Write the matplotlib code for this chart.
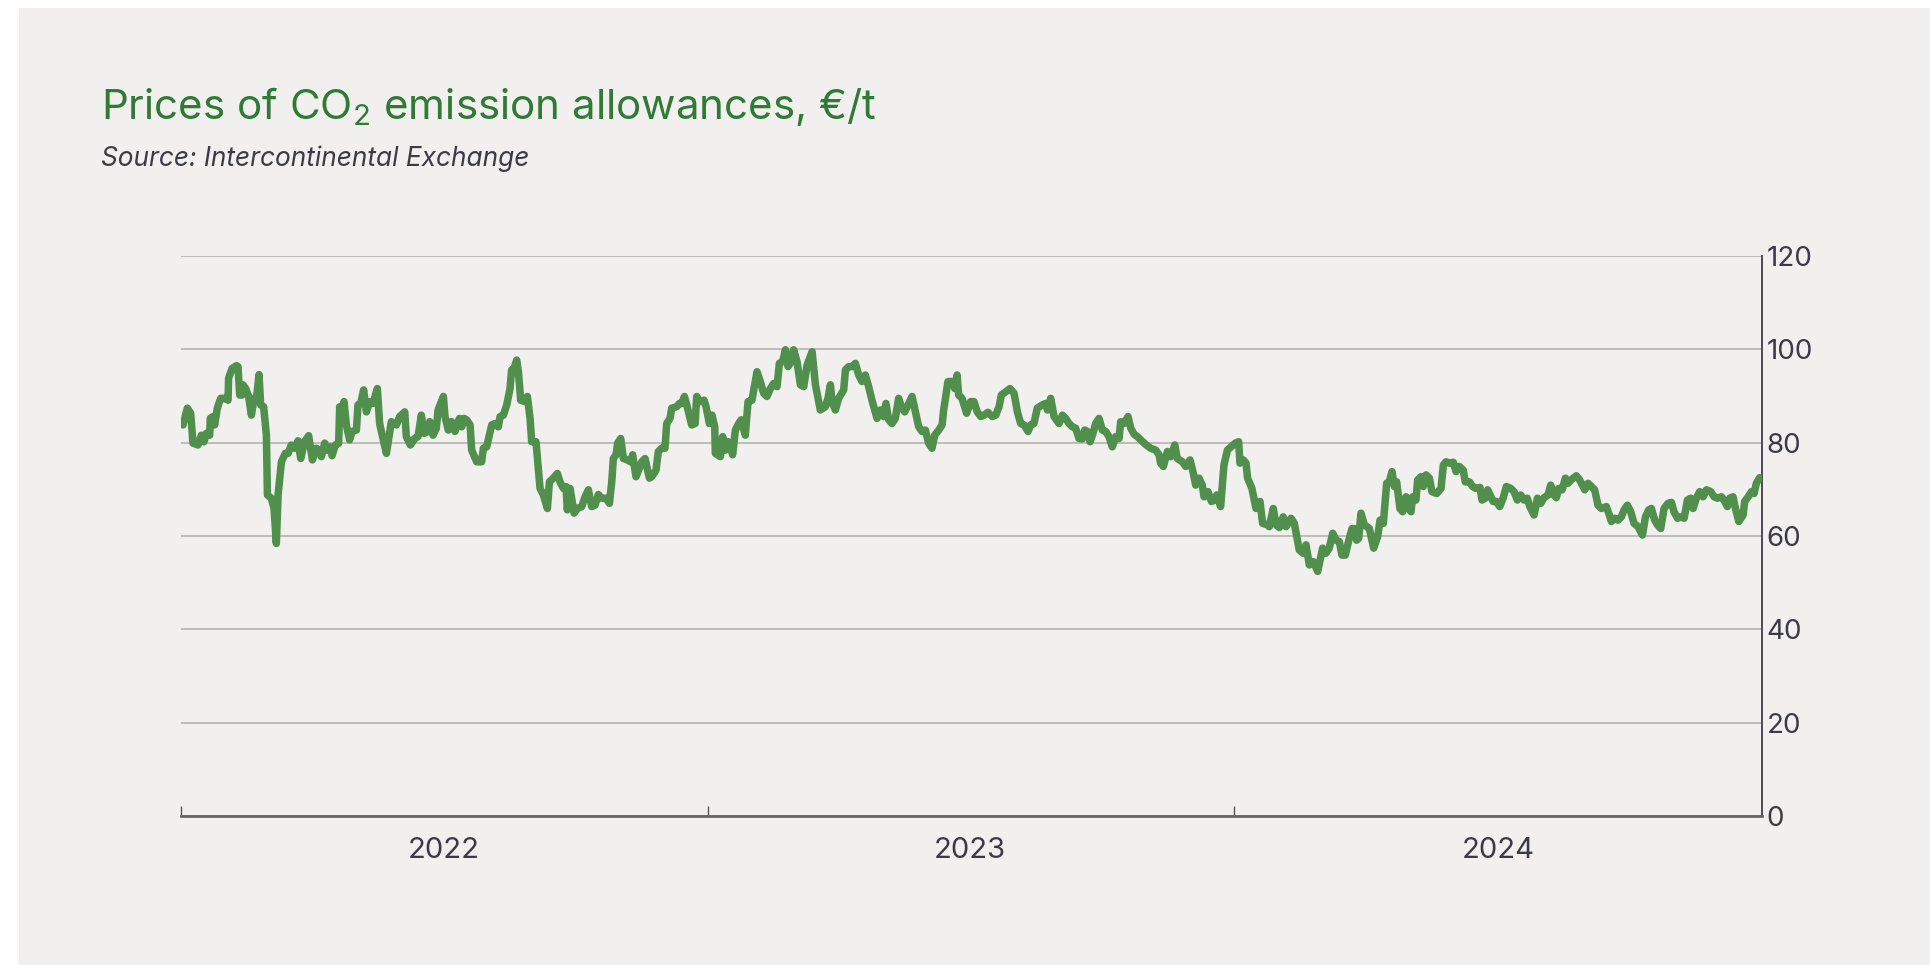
import numpy as np
import pandas as pd
import matplotlib
matplotlib.use("Agg")
import matplotlib.pyplot as plt
from matplotlib.patches import Rectangle

plt.rcParams["font.family"] = ["Inter", "DejaVu Sans"]
plt.rcParams["mathtext.fontset"] = "custom"
plt.rcParams["mathtext.rm"] = "Inter"

# EUA settlement prices, days counted from 1 Jan 2022
days = [
    1.4, 4.4, 6.7, 8.3, 11.8, 14.1, 15.9, 17.6, 19.9, 20.3, 22.2, 23.3, 25.2, 27.5, 30.3,
    32.6, 33.0, 35.4, 38.4, 39.5, 40.7, 42.3, 43.0, 44.8, 46.9, 48.8, 50.6, 52.2, 54.1,
    55.2, 57.3, 59.2, 59.9, 62.6, 64.5, 66.1, 67.3, 69.6, 72.3, 74.2, 76.5, 78.8, 81.1,
    83.0, 85.7, 88.5, 91.1, 93.8, 96.1, 97.3, 99.6, 101.2, 103.1, 104.7, 107.0, 109.3,
    110.0, 111.6, 113.0, 114.6, 116.9, 118.6, 121.6, 122.7, 124.6, 126.6, 128.5, 130.8,
    133.1, 136.1, 137.7, 140.0, 142.4, 145.8, 149.3, 151.6, 155.1, 156.2, 159.0, 162.0,
    164.3, 166.6, 168.5, 171.2, 172.4, 174.7, 177.0, 178.2,
    181.9, 183.0, 185.3, 187.6, 189.9, 193.0, 194.6, 196.2, 198.0, 200.4, 201.5, 205.0,
    208.4, 209.6, 211.9, 215.4, 217.7, 220.0, 221.2, 223.5, 225.8, 228.1, 229.2, 230.9,
    232.7, 233.9, 235.5, 238.5, 240.1, 242.0, 243.1, 246.1, 248.9, 251.2, 254.0, 255.4,
    258.1, 260.9, 262.7, 265.1, 266.9, 267.8, 269.7, 272.5, 274.8, 277.8, 280.1, 282.4,
    284.7, 287.0, 289.3, 291.6, 294.6, 297.0, 298.6, 299.7, 301.6, 302.7, 304.8, 306.7,
    309.4, 311.7, 313.1, 315.4, 317.7, 319.4, 321.7, 324.7, 326.3, 329.3, 330.9, 333.2,
    335.5, 336.7, 339.0, 340.2, 343.6, 345.5, 347.1, 349.0, 350.6, 354.0, 356.4, 357.5,
    359.8, 362.6,
    364.0, 366.3, 368.1, 370.0, 370.4, 373.9, 375.5, 377.4, 379.2, 380.8, 382.4, 384.3,
    386.6, 388.4, 391.2, 393.1, 395.8, 399.3, 401.6, 403.9, 406.2, 408.6, 410.9, 413.2,
    414.8, 417.1, 419.0, 420.8, 423.1, 424.7, 427.0, 429.4, 431.7, 434.0, 437.5, 439.8,
    443.2, 446.7, 448.5, 450.2, 451.3, 453.6, 455.9, 459.4, 460.6, 462.9, 465.2, 467.5,
    469.8, 472.1, 474.4, 476.7, 479.0, 482.5, 484.8, 487.1, 488.7, 490.6, 492.9, 495.2,
    497.5, 499.4, 501.7, 504.0, 506.8, 509.1, 511.4, 513.7, 516.0, 518.3, 520.6, 522.5,
    525.3, 527.6, 528.7, 531.7, 534.5, 536.4, 538.0, 539.1, 541.4,
    544.6, 547.4, 549.7, 552.0, 554.4, 556.7, 559.4, 562.4, 564.8, 567.1, 568.7, 571.7,
    574.7, 577.5, 579.8, 582.1, 584.4, 587.2, 589.0, 591.3, 593.6, 597.1, 599.4, 600.6,
    602.9, 605.2, 608.7, 611.0, 613.3, 615.6, 617.9, 620.2, 622.5, 624.8, 626.5, 628.3,
    630.2, 631.8, 634.1, 636.4, 638.7, 641.0, 643.3, 645.6, 648.0, 650.3, 651.4, 653.7,
    656.5, 658.4, 660.7, 663.0, 665.3, 668.8, 672.2, 675.7, 678.0, 679.1, 681.0, 683.8,
    686.1, 688.9, 690.7, 694.2, 696.5, 699.5, 701.8, 703.4, 705.7, 708.0, 709.2, 712.0,
    714.3, 716.6, 718.0, 720.7, 723.0, 725.4,
    727.9, 730.9, 733.2, 734.1, 736.4, 738.3, 739.4, 742.4, 745.2, 748.0, 749.8, 753.3,
    754.4, 757.2, 759.1, 761.4, 764.1, 766.0, 769.5, 771.8, 775.2, 778.0, 779.9, 782.2,
    785.0, 788.0, 791.4, 793.7, 796.0, 798.4, 800.7, 803.0, 804.8, 807.1, 809.9, 811.8,
    813.4, 815.0, 816.4, 818.0, 820.3, 823.8, 826.8, 829.6, 831.2, 833.5, 835.8, 837.6,
    839.5, 841.1, 842.7, 845.0, 846.9, 849.2, 851.0, 852.7, 853.8, 856.1, 857.3, 859.6,
    861.2, 863.1, 865.4, 867.2, 870.5, 873.5, 875.1, 876.9, 879.7, 882.0, 883.9, 886.2,
    888.9, 890.3, 893.1, 895.4, 897.7, 900.5, 901.9, 904.2, 905.8,
    909.6, 911.9, 914.2, 916.5, 918.8, 921.8, 924.1, 926.4, 928.7, 931.0, 933.3, 935.0,
    938.0, 940.3, 942.6, 944.9, 947.7, 949.5, 951.8, 953.4, 955.1, 957.4, 959.7, 961.5,
    964.3, 967.3, 969.6, 973.1, 975.4, 977.7, 980.0, 982.3, 984.6, 988.1, 989.7, 991.6,
    993.9, 996.2, 998.5, 1000.4, 1002.7, 1005.0, 1007.3, 1010.1, 1013.1, 1015.2, 1017.5,
    1019.3, 1021.6, 1023.5, 1025.8, 1028.1, 1030.9, 1033.2, 1035.0, 1037.4, 1039.7,
    1042.0, 1044.3, 1046.6, 1048.2, 1050.5, 1052.8, 1055.1, 1057.5, 1060.5, 1062.8,
    1065.1, 1067.9, 1070.2, 1072.0, 1073.6, 1075.9, 1077.6, 1079.9, 1082.9, 1084.0,
    1086.4, 1088.7, 1090.5, 1092.1, 1094.4,
]
prices = [
    83.8, 87.4, 86.3, 79.9, 79.5, 81.6, 80.2, 82.0, 81.6, 85.2, 85.6, 83.8, 87.4, 89.5, 89.5,
    89.1, 93.8, 95.9, 96.5, 96.3, 90.2, 90.2, 92.4, 91.6, 89.9, 85.9, 89.5, 89.1, 94.6,
    88.1, 87.7, 81.6, 68.8, 68.1, 65.9, 58.4, 68.8, 75.9, 77.7, 77.7, 79.5, 78.8, 80.4,
    76.6, 80.2, 81.5, 76.3, 78.8, 78.4, 77.0, 79.9, 78.4, 79.1, 77.2, 79.5, 79.9,
    87.7, 86.6, 88.8, 83.8, 80.6, 82.4, 82.7, 88.1, 88.4, 91.3, 86.6, 88.8,
    88.4, 91.6, 84.1, 80.9, 77.7, 84.5, 83.8, 85.6, 86.6, 81.3, 79.5, 80.9,
    81.3, 85.9, 82.0, 82.4, 84.5, 81.6, 83.1, 87.0,
    89.9, 85.6, 82.7, 84.5, 82.4, 85.2, 83.4, 85.2, 84.9, 83.8, 78.4, 75.9,
    75.9, 78.8, 79.1, 83.8, 84.1, 83.4, 85.6, 85.9, 88.1, 91.6, 95.6, 95.9,
    97.7, 95.2, 89.1, 88.8, 89.9, 85.2, 80.2, 80.2, 70.2, 68.8, 65.9, 71.6,
    72.4, 73.4, 71.6, 70.2, 70.6, 65.6, 70.2, 64.9, 65.9, 66.3, 68.4, 69.9,
    66.3, 66.6, 68.9, 68.1, 68.1, 67.0, 71.6, 76.6, 77.4, 79.9, 80.9, 76.6,
    76.3, 75.9, 77.4, 72.7, 74.5, 75.9, 76.6, 72.4, 72.7, 74.1, 78.1, 78.8,
    78.8, 84.1, 85.2, 87.4, 87.7, 88.4, 88.4, 89.9, 88.1, 83.8, 84.1, 89.9,
    88.8, 89.1,
    87.7, 84.1, 85.9, 83.4, 77.7, 77.0, 81.3, 78.4, 80.2, 79.5, 77.4, 82.7,
    84.1, 84.9, 81.6, 88.8, 89.1, 95.2, 93.1, 90.6, 89.9, 91.6, 92.7, 92.0,
    97.0, 97.4, 99.9, 96.3, 97.4, 99.9, 97.4, 92.4, 92.0, 96.6, 99.5, 92.4,
    87.0, 87.7, 89.5, 92.4, 88.8, 87.0, 89.5, 91.3, 95.6, 96.3, 96.3, 97.0,
    94.5, 93.1, 94.5, 92.0, 89.1, 85.2, 87.0, 85.6, 88.4, 84.9, 84.1, 85.2,
    89.5, 87.7, 86.6, 88.1, 89.9, 86.6, 83.4, 82.4, 82.7, 79.9, 78.8, 81.6,
    82.7, 83.8, 87.0, 93.1, 93.1, 91.6, 94.5, 90.2, 89.5,
    86.3, 88.8, 88.8, 86.6, 85.6, 85.9, 86.5, 85.6, 85.9, 87.7, 90.2, 90.9,
    91.6, 90.6, 86.6, 84.1, 83.8, 82.4, 83.8, 84.1, 87.4, 88.1, 88.4, 87.0,
    89.5, 85.6, 84.1, 85.9, 85.2, 84.1, 83.4, 83.1, 80.9, 80.8, 82.7, 82.4,
    80.2, 81.6, 84.1, 85.2, 82.7, 82.4, 81.3, 79.1, 81.3, 80.9, 84.5, 84.1,
    85.6, 83.1, 81.8, 81.3, 80.6, 79.6, 78.8, 78.4, 77.4, 75.6, 74.9, 78.1,
    77.0, 79.5, 76.6, 75.9, 74.9, 76.3, 73.4, 70.9, 72.4, 70.9, 68.4, 69.5,
    67.4, 67.7, 68.8, 66.3, 75.2, 78.4,
    79.1, 79.9, 80.2, 75.6, 76.3, 75.6, 72.4, 70.2, 65.9, 67.4, 62.7, 62.4,
    62.0, 65.9, 62.4, 61.8, 64.1, 62.0, 63.8, 62.7, 57.0, 56.3, 58.1, 53.8,
    54.5, 52.4, 57.4, 56.3, 57.4, 60.6, 59.1, 58.8, 55.9, 55.9, 59.5, 61.6,
    61.6, 59.1, 59.5, 64.9, 62.4, 61.6, 57.4, 59.9, 63.4, 62.7, 71.3, 71.6,
    73.8, 70.6, 71.6, 65.9, 65.2, 68.4, 65.9, 65.2, 68.4, 67.7, 72.0, 72.7,
    70.6, 73.1, 72.4, 69.5, 69.1, 70.2, 75.2, 75.9, 75.6, 75.8, 73.8, 74.9,
    74.1, 71.6, 71.6, 70.6, 70.2, 70.4, 67.7, 68.1, 69.9,
    67.4, 67.4, 66.3, 68.1, 70.6, 70.2, 69.5, 67.7, 68.8, 67.7, 68.1, 66.3,
    64.5, 68.1, 67.0, 68.2, 68.8, 70.9, 68.8, 68.2, 70.2, 69.9, 72.4, 71.3,
    72.2, 72.9, 72.0, 69.9, 71.3, 70.6, 69.9, 66.6, 65.9, 66.3, 64.9, 63.1,
    63.8, 63.4, 64.1, 65.6, 66.6, 65.2, 62.7, 62.0, 60.2, 64.1, 65.6,
    65.9, 63.4, 62.4, 61.6, 65.9, 67.0, 67.2, 65.2, 63.8, 64.1,
    63.8, 67.7, 68.1, 65.9, 68.1, 69.5, 68.4, 69.9, 69.5, 68.4,
    68.1, 68.4, 67.4, 66.3, 68.1, 68.4, 65.9, 63.1, 64.5, 67.4,
    68.4, 69.5, 69.1, 71.3, 72.5,
]

years = ["2022", "2023", "2024"]
y_ticks = [0, 20, 40, 60, 80, 100, 120]

title = r"Prices of CO$_\mathregular{2}$ emission allowances, €/t"
subtitle = "Source: Intercontinental Exchange"

bg = "#f1f0ee"
green_title = "#2f7a35"
green_line = "#508f4c"
text_dark = "#3b3b45"

dates = pd.Timestamp("2022-01-01") + pd.to_timedelta(np.array(days), unit="D")

fig = plt.figure(figsize=(19.31, 9.65), dpi=100, facecolor="white")
fig.patches.append(Rectangle((19 / 1931, 0), 1, 1 - 8 / 965, transform=fig.transFigure,
                             facecolor=bg, edgecolor="none", zorder=-10))

ax = fig.add_axes([181 / 1931, 1 - 816 / 965, (1762 - 181) / 1931, (816 - 256) / 965])
ax.set_facecolor(bg)

ax.plot(dates, prices, color=green_line, lw=5.4, solid_joinstyle="round",
        solid_capstyle="round", zorder=3)

ax.set_ylim(0, 120)
ax.set_yticks(y_ticks)
ax.yaxis.tick_right()
ax.tick_params(axis="y", length=0, pad=3.5, labelsize=20, labelcolor=text_dark)
ax.grid(axis="y", color="#b4b3b3", lw=1.2)
ax.set_axisbelow(True)

start = pd.Timestamp("2022-01-01")
end = pd.Timestamp("2025-01-01")
ax.set_xlim(start, end)
year_starts = [pd.Timestamp(f"{y}-01-01") for y in years]
ax.set_xticks(year_starts)
ax.set_xticklabels([])
ax.tick_params(axis="x", which="major", direction="in", length=7, width=1, color="#555555")
mid_years = [pd.Timestamp(f"{y}-07-02") for y in years]
ax.set_xticks(mid_years, minor=True)
ax.set_xticklabels(years, minor=True)
ax.tick_params(axis="x", which="minor", length=0, pad=15, labelsize=21, labelcolor=text_dark)

for side in ["left", "top"]:
    ax.spines[side].set_visible(False)
ax.spines["right"].set_color("#4a4a52")
ax.spines["right"].set_linewidth(1.4)
ax.spines["bottom"].set_color("#666666")
ax.spines["bottom"].set_linewidth(2)

fig.text(101 / 1931, 1 - 119 / 965, title, fontsize=30.3, color=green_title, ha="left",
         va="baseline")
fig.text(101 / 1931, 1 - 166 / 965, subtitle, fontsize=18.9, color=text_dark,
         style="italic", ha="left", va="baseline")

fig.savefig("out.png", dpi=100, facecolor="white")
